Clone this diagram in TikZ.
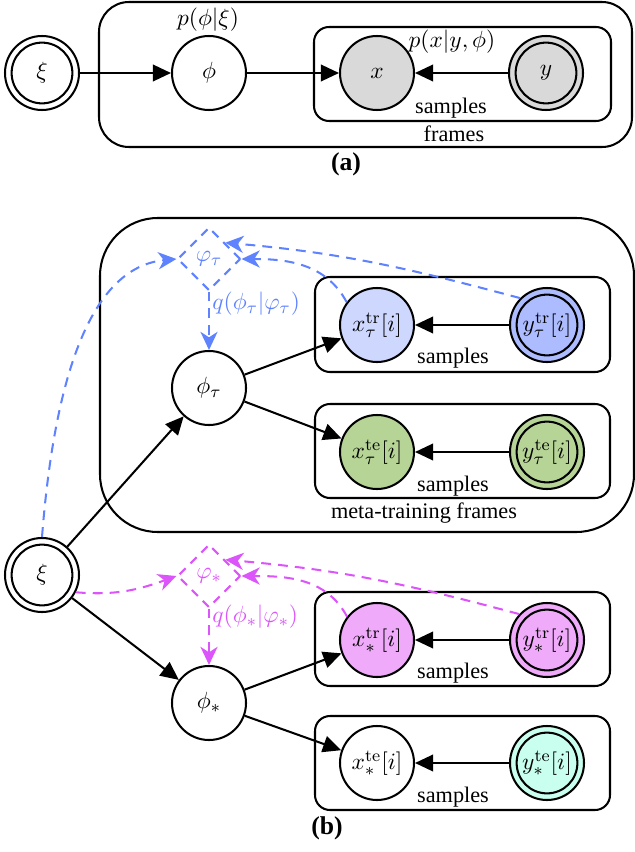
\documentclass[tikz,border=0pt]{standalone}
\usepackage[no-math]{fontspec}
\setmainfont{Liberation Serif}
\usetikzlibrary{arrows.meta,shapes.geometric}
\definecolor{bl}{RGB}{95,130,255}
\definecolor{pk}{RGB}{220,85,250}
\definecolor{trx}{RGB}{206,216,255}
\definecolor{try}{RGB}{172,188,255}
\definecolor{grn}{RGB}{182,212,150}
\definecolor{pkf}{RGB}{240,170,250}
\definecolor{cyf}{RGB}{200,255,238}
\definecolor{grf}{RGB}{217,217,217}
\begin{document}
\begin{tikzpicture}[x=0.4675pt,y=-0.4675pt,
  font=\fontsize{10.4}{12.5}\selectfont,
  mth/.style={font=\fontsize{11.2}{13.5}\selectfont},
  var/.style={mth,circle,draw,line width=0.95pt,minimum size=34.6pt,inner sep=0pt},
  obs/.style={var,path picture={\draw[line width=0.95pt] (path picture bounding box.center) circle (14.2pt);}},
  plate/.style={draw,line width=0.95pt,rounded corners=7pt},
  edge/.style={line width=0.95pt,-{Triangle[length=8.5pt,width=7.8pt]}},
  dsh/.style={line width=0.95pt,dash pattern=on 4.6pt off 3.3pt,-{Stealth[length=8.5pt,width=8pt,inset=2.6pt]}},
  dia/.style={mth,diamond,minimum size=29.5pt,inner sep=0pt,line width=0.95pt,dash pattern=on 4pt off 3.2pt},
  lbl/.style={inner sep=0pt},
  captxt/.style={inner sep=0pt,font=\fontsize{12}{14}\selectfont\bfseries}]
\useasboundingbox (0,0) rectangle (634,852);
% ---------- (a) ----------
\draw[plate,rounded corners=14pt] (99,2) rectangle (632,147);
\draw[plate] (314,27) rectangle (611,121);
\node[obs] (xia) at (42,73) {$\xi$};
\node[var] (phia) at (209,73) {$\phi$};
\node[var,fill=grf] (xa) at (377,73) {$x$};
\node[obs,fill=grf] (ya) at (546,73) {$y$};
\node[lbl,mth] (lpa) at (208,20) {$p(\phi|\xi)$};
\node[lbl,mth] (lxa) at (452,42) {$p(x|y,\phi)$};
\node[lbl] (sa) at (451,108) {samples};
\node[lbl] (fa) at (454,134) {frames};
\node[captxt] (capa) at (346,164) {(a)};
\draw[edge] (xia) -- (phia);
\draw[edge] (phia) -- (xa);
\draw[edge] (ya) -- (xa);
% ---------- (b) ----------
\draw[plate,rounded corners=27pt] (100,218) rectangle (634,532);
\draw[plate] (315,277) rectangle (610,372);
\draw[plate] (315,404) rectangle (610,498);
\draw[plate] (315,592) rectangle (610,686);
\draw[plate] (315,716) rectangle (610,810);
\node[obs] (xib) at (42,575) {$\xi$};
\node[var] (pt) at (209,388) {$\phi_\tau$};
\node[var,fill=trx] (xtr) at (377,325) {$x^{\mathrm{tr}}_\tau[i]$};
\node[obs,fill=try] (ytr) at (547,325) {$y^{\mathrm{tr}}_\tau[i]$};
\node[var,fill=grn] (xte) at (377,452) {$x^{\mathrm{te}}_\tau[i]$};
\node[obs,fill=grn] (yte) at (547,452) {$y^{\mathrm{te}}_\tau[i]$};
\node[var] (ps) at (209,703) {$\phi_*$};
\node[var,fill=pkf] (xstr) at (377,640) {$x^{\mathrm{tr}}_*[i]$};
\node[obs,fill=pkf] (ystr) at (547,640) {$y^{\mathrm{tr}}_*[i]$};
\node[var,fill=white] (xste) at (377,763) {$x^{\mathrm{te}}_*[i]$};
\node[obs,fill=cyf] (yste) at (547,763) {$y^{\mathrm{te}}_*[i]$};
\node[lbl] (s1) at (453,358) {samples};
\node[lbl] (s2) at (453,486) {samples};
\node[lbl] (s3) at (453,673) {samples};
\node[lbl] (s4) at (453,797) {samples};
\node[lbl] (mtf) at (424,513) {meta-training frames};
\node[captxt] (capb) at (327,828) {(b)};
\node[dia,draw=bl,text=bl] (dt) at (209,259) {$\varphi_\tau$};
\node[dia,draw=pk,text=pk] (ds) at (209,576) {$\varphi_*$};
\node[lbl,mth,anchor=west,text=bl] (qt) at (212,304) {$q(\phi_\tau|\varphi_\tau)$};
\node[lbl,mth,anchor=west,text=pk] (qs) at (212,617) {$q(\phi_*|\varphi_*)$};
% black edges
\draw[edge] (xib) -- (pt);
\draw[edge] (xib) -- (ps);
\draw[edge] (pt) -- (xtr);
\draw[edge] (pt) -- (xte);
\draw[edge] (ytr) -- (xtr);
\draw[edge] (yte) -- (xte);
\draw[edge] (ps) -- (xstr);
\draw[edge] (ps) -- (xste);
\draw[edge] (ystr) -- (xstr);
\draw[edge] (yste) -- (xste);
% blue dashed
\draw[dsh,bl] (dt.south) -- (pt.north);
\draw[dsh,bl] (xib.north) .. controls (52,410) and (80,268) .. (dt.west);
\draw[dsh,bl] (xtr.143) to[out=118,in=0] (dt.east);
\draw[dsh,bl] (ytr.135) to[out=165,in=-5] (dt.north east);
% pink dashed
\draw[dsh,pk] (ds.south) -- (ps.north);
\draw[dsh,pk] (xib.-27) to[out=-5,in=200] (ds.west);
\draw[dsh,pk] (xstr.142) to[out=118,in=0] (ds.east);
\draw[dsh,pk] (ystr.137) to[out=165,in=-5] (ds.north east);
\end{tikzpicture}
\end{document}
